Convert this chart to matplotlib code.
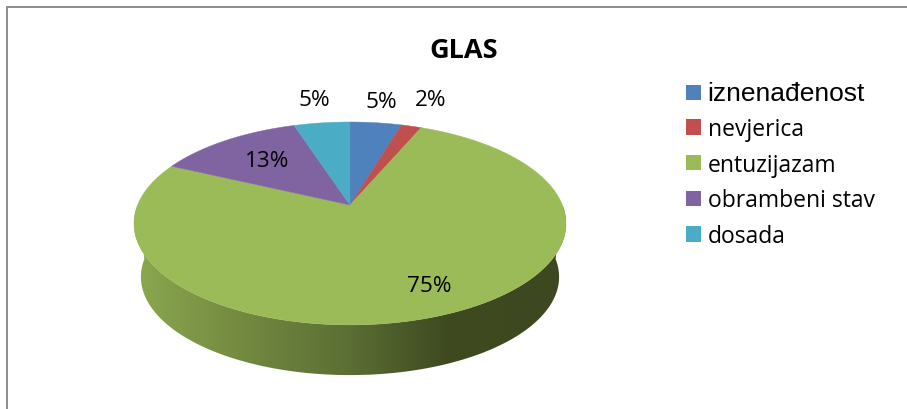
import matplotlib
matplotlib.use("Agg")
import matplotlib.pyplot as plt
import numpy as np
from matplotlib.colors import LinearSegmentedColormap
from matplotlib.patches import Patch, Polygon

plt.rcParams['font.family'] = ['Open Sans', 'DejaVu Sans']

categories = ['iznenađenost', 'nevjerica', 'entuzijazam', 'obrambeni stav', 'dosada']
shares = [4.6, 1.8, 75.6, 13.0, 5.0]
percent_labels = ['5%', '2%', '75%', '13%', '5%']
colors = ['#4F81BD', '#C0504D', '#9BBB59', '#8064A2', '#4BACC6']
title = 'GLAS'

# gdje su natpisi postotaka (pikseli slike)
label_pos = [(381, 102), (431, 100), (429, 287), (267, 162), (314, 100)]

CX, CY = 350, 206
K = 0.182


def top_face(theta):
    # kut u stupnjevima od vrha, u smjeru kazaljke; krug u perspektivi
    t = np.radians(theta)
    w = 1 + K * np.cos(t)
    return CX + 212.4 * np.sin(t) / w, CY - 98.1 * np.cos(t) / w


def bottom_face(theta):
    x, y = top_face(theta)
    return CX + (x - CX) * 0.968, 260 + (y - CY) * 0.968


fig = plt.figure(figsize=(9.07, 4.10), dpi=100)
ax = fig.add_axes([0, 0, 1, 1])
ax.set_xlim(0, 907)
ax.set_ylim(410, 0)
ax.axis('off')

# okvir grafikona
ax.plot([7, 7, 907], [410, 8, 8], color='#8C8C8C', lw=1.4, solid_joinstyle='miter')

# bocna strana, prijelaz boje ide slijeva nadesno
side_cmap = LinearSegmentedColormap.from_list(
    'side', [(0, '#8BA850'), (0.23, '#758C41'), (0.5, '#5B6E34'), (0.72, '#3F4A21'), (1, '#3E4820')])
arc = np.linspace(90, 270, 181)
tx, ty = top_face(arc)
bx, by = bottom_face(arc)
side = Polygon(np.r_[np.c_[tx, ty], np.c_[bx, by][::-1]], closed=True, facecolor='none', edgecolor='none')
ax.add_patch(side)
grad = ax.imshow(np.linspace(0, 1, 256)[None, :], cmap=side_cmap, extent=(134, 566, 380, 200), aspect='auto')
grad.set_clip_path(side)
ax.set_xlim(0, 907)
ax.set_ylim(410, 0)

# gornja ploha
start = 0
for share, color in zip(shares, colors):
    end = start + share * 3.6
    x, y = top_face(np.linspace(start, end, 200))
    ax.fill(np.r_[CX, x], np.r_[CY, y], color=color, lw=0.3)
    start = end

for (x, y), text in zip(label_pos, percent_labels):
    ax.text(x, y, text, fontsize=16.2, ha='center', va='center', color='black')

ax.text(464, 51, title, fontsize=19.5, fontweight='bold', ha='center', va='center')

handles = [Patch(facecolor=c, edgecolor='none') for c in colors]
leg = ax.legend(handles, categories, loc='upper left', bbox_to_anchor=(679 / 907, 1 - 75.5 / 410),
                frameon=False, fontsize=16.5, handlelength=0.65, handleheight=0.65,
                handletextpad=0.3, labelspacing=0.51, borderpad=0.3, borderaxespad=0)
leg.get_texts()[0].set_family('Liberation Sans')
leg.get_texts()[0].set_fontsize(19)

fig.savefig('out.png', dpi=100)
